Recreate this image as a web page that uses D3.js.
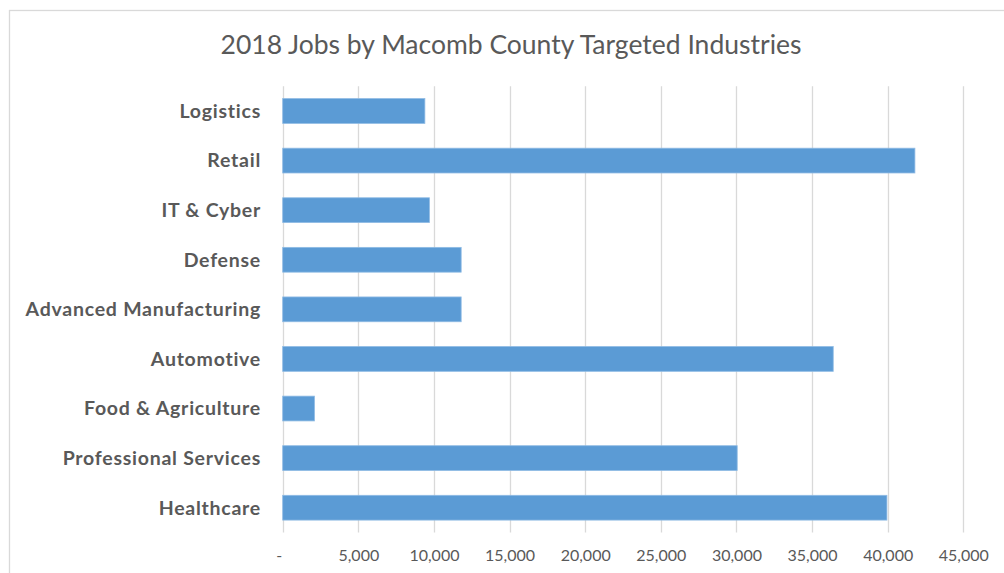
<!DOCTYPE html>
<html>
<head>
<meta charset="utf-8">
<script src="https://cdn.jsdelivr.net/npm/d3@7"></script>
<style>
  html, body { margin: 0; padding: 0; background: #ffffff; }
  svg { display: block; }
</style>
</head>
<body>
<svg id="chart" width="1004" height="573"></svg>
<script>
// ---- Data ----
const categories = [
  "Logistics",
  "Retail",
  "IT & Cyber",
  "Defense",
  "Advanced Manufacturing",
  "Automotive",
  "Food & Agriculture",
  "Professional Services",
  "Healthcare"
];
const jobs = [9400, 41800, 9700, 11800, 11800, 36400, 2100, 30050, 39950];
const tickValues = [0, 5000, 10000, 15000, 20000, 25000, 30000, 35000, 40000, 45000];
const chartTitle = "2018 Jobs by Macomb County Targeted Industries";

// ---- Layout ----
const plot = { left: 282.7, right: 963.3, top: 86.2, bottom: 532.5 };
const textColor = "#595959";
const gridColor = "#d9d9d9";
const barColor = "#5b9bd5";

const svg = d3.select("#chart");

// chart frame
svg.append("rect")
  .attr("x", 9.5).attr("y", 10.5)
  .attr("width", 1010).attr("height", 580)
  .attr("fill", "#ffffff")
  .attr("stroke", gridColor)
  .attr("stroke-width", 1.3);

const x = d3.scaleLinear().domain([0, 45000]).range([plot.left, plot.right]);
const y = d3.scaleBand().domain(categories).range([plot.top, plot.bottom])
  .paddingInner(0.5).paddingOuter(0.25);

// gridlines
svg.append("g").selectAll("line").data(tickValues).join("line")
  .attr("x1", d => Math.round(x(d)) + 0.5)
  .attr("x2", d => Math.round(x(d)) + 0.5)
  .attr("y1", plot.top).attr("y2", plot.bottom)
  .attr("stroke", gridColor).attr("stroke-width", 1.3);

// bars
svg.append("g").selectAll("rect").data(categories).join("rect")
  .attr("x", x(0))
  .attr("y", d => y(d))
  .attr("width", (d, i) => x(jobs[i]) - x(0))
  .attr("height", y.bandwidth())
  .attr("fill", barColor)
  .attr("stroke", "#8fbbe4")
  .attr("stroke-width", 0.8);

// x axis (no domain line, no ticks)
const fmt = d3.format(",");
const xAxis = d3.axisBottom(x)
  .tickValues(tickValues)
  .tickSize(0)
  .tickPadding(0)
  .tickFormat(d => d === 0 ? "-" : fmt(d));
const gx = svg.append("g")
  .attr("transform", `translate(0, 561)`)
  .call(xAxis);
gx.select(".domain").remove();
gx.selectAll("text")
  .attr("y", 0).attr("dy", 0)
  .attr("dx", d => d === 0 ? -4 : 0)
  .attr("fill", textColor)
  .style("font-family", "Lato, 'Open Sans', sans-serif")
  .style("font-size", "16px");

// y axis labels
const yAxis = d3.axisLeft(y).tickSize(0).tickPadding(0);
const gy = svg.append("g")
  .attr("transform", `translate(261, 0)`)
  .call(yAxis);
gy.select(".domain").remove();
gy.selectAll("text")
  .attr("x", 0)
  .attr("dy", "0.35em")
  .attr("fill", textColor)
  .style("font-family", "Lato, 'Open Sans', sans-serif")
  .style("font-weight", "bold")
  .style("font-size", "19.5px")
  .style("letter-spacing", "0.75px");

// title
svg.append("text")
  .attr("x", 511).attr("y", 54)
  .attr("text-anchor", "middle")
  .attr("fill", textColor)
  .style("font-family", "Lato, 'Open Sans', sans-serif")
  .style("font-size", "26.5px")
  .text(chartTitle);
</script>
</body>
</html>
